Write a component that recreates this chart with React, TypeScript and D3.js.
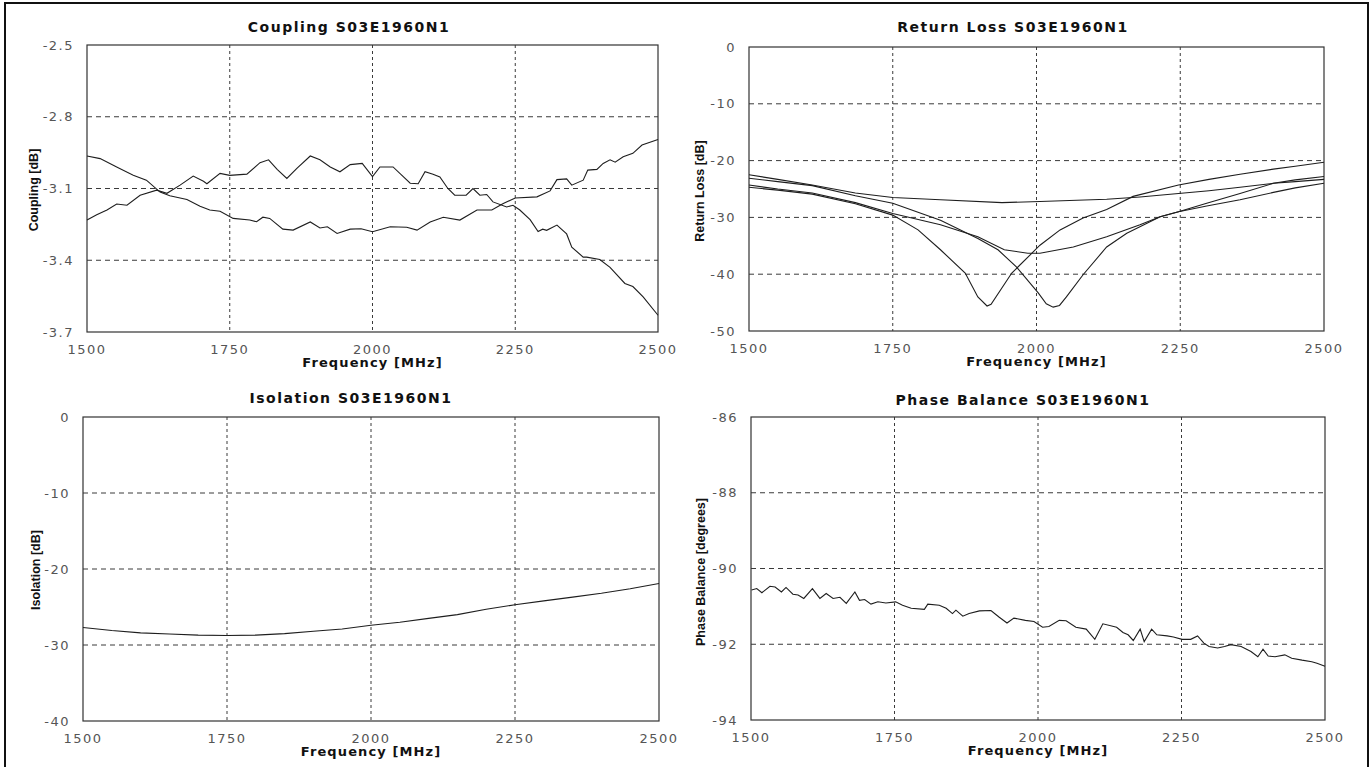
import React from "react";
import * as d3 from "d3";

// ---------- data ----------
const FREQ_TICKS = [1500, 1750, 2000, 2250, 2500];

const COUPLING_TICKS = [-2.5, -2.8, -3.1, -3.4, -3.7];
const couplingAFreq = [1500, 1523, 1552, 1581, 1604, 1628, 1645, 1675, 1698, 1715, 1733, 1756, 1785, 1797, 1808, 1820, 1843, 1861, 1891, 1908, 1921, 1938, 1961, 1980, 2000, 2031, 2060, 2078, 2101, 2124, 2153, 2183, 2209, 2229, 2250, 2288, 2311, 2323, 2340, 2349, 2369, 2377, 2393, 2404, 2416, 2425, 2439, 2456, 2472, 2500];
const couplingAVal = [-2.964, -2.975, -3.01, -3.045, -3.065, -3.115, -3.13, -3.146, -3.174, -3.19, -3.195, -3.225, -3.232, -3.239, -3.22, -3.225, -3.27, -3.274, -3.24, -3.265, -3.26, -3.288, -3.27, -3.268, -3.281, -3.26, -3.262, -3.274, -3.24, -3.22, -3.232, -3.19, -3.19, -3.163, -3.14, -3.135, -3.11, -3.063, -3.06, -3.086, -3.065, -3.023, -3.02, -2.995, -2.98, -2.99, -2.967, -2.953, -2.918, -2.895];
const couplingBFreq = [1500, 1517, 1535, 1552, 1570, 1593, 1622, 1640, 1663, 1686, 1704, 1710, 1733, 1750, 1780, 1803, 1818, 1833, 1850, 1868, 1891, 1908, 1926, 1943, 1961, 1982, 2000, 2013, 2036, 2066, 2080, 2092, 2106, 2118, 2132, 2144, 2164, 2176, 2188, 2200, 2211, 2235, 2246, 2258, 2276, 2290, 2298, 2305, 2323, 2340, 2349, 2369, 2375, 2398, 2416, 2442, 2456, 2474, 2500];
const couplingBVal = [-3.232, -3.21, -3.19, -3.165, -3.17, -3.128, -3.107, -3.12, -3.086, -3.048, -3.07, -3.08, -3.037, -3.045, -3.04, -2.992, -2.98, -3.02, -3.058, -3.015, -2.964, -2.98, -3.01, -3.03, -3.0, -2.995, -3.05, -3.01, -3.01, -3.078, -3.08, -3.03, -3.04, -3.052, -3.1, -3.128, -3.128, -3.1, -3.128, -3.125, -3.156, -3.177, -3.17, -3.19, -3.23, -3.28, -3.27, -3.275, -3.253, -3.29, -3.345, -3.387, -3.387, -3.397, -3.43, -3.497, -3.51, -3.553, -3.63];

const RL_TICKS = [0, -10, -20, -30, -40, -50];
const rlDip1Freq = [1500, 1550, 1610, 1685, 1750, 1794, 1833, 1876, 1898, 1914, 1921, 1957, 2006, 2041, 2081, 2122, 2168, 2247, 2300, 2354, 2412, 2450, 2500];
const rlDip1Val = [-24.7, -25.2, -25.9, -27.6, -29.6, -32.2, -35.7, -39.8, -44.0, -45.6, -45.3, -39.8, -34.9, -32.2, -30.1, -28.6, -26.3, -24.3, -23.3, -22.4, -21.5, -21.0, -20.3];
const rlDip2Freq = [1500, 1550, 1610, 1685, 1750, 1833, 1898, 1933, 1965, 2003, 2017, 2029, 2040, 2052, 2081, 2122, 2157, 2215, 2247, 2296, 2354, 2412, 2450, 2500];
const rlDip2Val = [-23.1, -23.7, -24.4, -26.2, -27.5, -30.5, -33.7, -35.7, -38.7, -43.3, -45.2, -45.8, -45.5, -44.0, -40.1, -35.2, -32.8, -29.9, -29.0, -27.5, -25.8, -24.0, -23.4, -22.8];
const rlBroadFreq = [1500, 1550, 1610, 1685, 1750, 1833, 1898, 1944, 1985, 2006, 2064, 2122, 2180, 2215, 2247, 2296, 2354, 2412, 2450, 2500];
const rlBroadVal = [-24.3, -25.0, -25.7, -27.4, -29.3, -31.3, -33.4, -35.7, -36.3, -36.3, -35.2, -33.4, -31.3, -29.9, -29.0, -28.0, -26.9, -25.6, -24.8, -24.0];
const rlFlatFreq = [1500, 1550, 1610, 1685, 1750, 1833, 1940, 2006, 2122, 2180, 2247, 2300, 2354, 2412, 2450, 2500];
const rlFlatVal = [-22.5, -23.3, -24.3, -25.7, -26.5, -26.9, -27.4, -27.2, -26.8, -26.4, -25.8, -25.3, -24.7, -24.0, -23.7, -23.3];

const ISO_TICKS = [0, -10, -20, -30, -40];
const isoFreq = [1500, 1550, 1600, 1650, 1700, 1750, 1800, 1850, 1900, 1950, 2000, 2050, 2100, 2150, 2200, 2250, 2300, 2350, 2400, 2450, 2500];
const isoVal = [-27.7, -28.1, -28.4, -28.55, -28.7, -28.75, -28.7, -28.5, -28.2, -27.9, -27.4, -27.0, -26.5, -26.0, -25.3, -24.7, -24.2, -23.7, -23.2, -22.6, -21.9];

const PHASE_TICKS = [-86, -88, -90, -92, -94];
const phaseFreq = [1501, 1510, 1519, 1533, 1542, 1553, 1561, 1573, 1582, 1592, 1607, 1620, 1631, 1643, 1655, 1666, 1681, 1689, 1698, 1709, 1721, 1735, 1752, 1764, 1779, 1802, 1808, 1828, 1840, 1851, 1857, 1869, 1880, 1898, 1918, 1932, 1946, 1958, 1978, 1993, 2008, 2019, 2037, 2049, 2066, 2084, 2099, 2113, 2137, 2148, 2157, 2166, 2178, 2185, 2198, 2207, 2225, 2236, 2251, 2266, 2278, 2289, 2298, 2313, 2325, 2336, 2354, 2371, 2383, 2392, 2401, 2413, 2430, 2442, 2460, 2477, 2486, 2500];
const phaseVal = [-90.57, -90.53, -90.64, -90.47, -90.49, -90.62, -90.5, -90.68, -90.7, -90.79, -90.53, -90.79, -90.66, -90.79, -90.76, -90.92, -90.62, -90.84, -90.82, -90.94, -90.88, -90.91, -90.88, -90.97, -91.05, -91.08, -90.94, -90.97, -91.05, -91.19, -91.1, -91.26, -91.19, -91.12, -91.11, -91.28, -91.44, -91.31, -91.37, -91.4, -91.55, -91.53, -91.37, -91.38, -91.55, -91.6, -91.87, -91.46, -91.55, -91.69, -91.75, -91.9, -91.6, -91.93, -91.6, -91.75, -91.78, -91.81, -91.87, -91.87, -91.78, -91.97, -92.06, -92.1, -92.06, -92.01, -92.06, -92.19, -92.33, -92.13, -92.31, -92.33, -92.28, -92.37, -92.42, -92.46, -92.5, -92.58];

// ---------- component ----------
type Series = { f: number[]; v: number[] };
type PanelProps = {
  left: number; right: number; top: number; bottom: number;
  yDomain: [number, number];
  yTicks: number[];
  title: string; titleX: number; titleY: number;
  yLabel: string; yLabelX: number; yLabelY: number;
  series: Series[];
};

const TICK_FONT = "'DejaVu Sans', Verdana, sans-serif";
const TITLE_FONT = "'DejaVu Sans', Verdana, sans-serif";
const YLABEL_FONT = "'Liberation Sans', Arial, sans-serif";

function Panel(p: PanelProps) {
  const x = d3.scaleLinear().domain([1500, 2500]).range([p.left, p.right]);
  const y = d3.scaleLinear().domain(p.yDomain).range([p.bottom, p.top]);
  const line = d3
    .line<[number, number]>()
    .x((d) => x(d[0]))
    .y((d) => y(d[1]));
  const innerX = FREQ_TICKS.filter((t) => t > 1500 && t < 2500);
  const innerY = p.yTicks.filter((t) => t !== p.yDomain[0] && t !== p.yDomain[1]);
  return (
    <g>
      {innerY.map((t) => (
        <line key={"hy" + t} x1={p.left} x2={p.right} y1={y(t)} y2={y(t)}
          stroke="#3a3a3a" strokeWidth={1} strokeDasharray="5,4" />
      ))}
      {innerX.map((t) => (
        <line key={"vx" + t} x1={x(t)} x2={x(t)} y1={p.top} y2={p.bottom}
          stroke="#3a3a3a" strokeWidth={1} strokeDasharray="3,3" />
      ))}
      <rect x={p.left} y={p.top} width={p.right - p.left} height={p.bottom - p.top}
        fill="none" stroke="#333" strokeWidth={1.2} />
      {p.series.map((s, i) => (
        <path key={i} d={line(s.f.map((f, j) => [f, s.v[j]] as [number, number])) || ""}
          fill="none" stroke="#1e1e1e" strokeWidth={1.1} />
      ))}
      {p.yTicks.map((t) => (
        <text key={"yt" + t} x={p.left - 13} y={y(t)} textAnchor="end" dominantBaseline="central"
          fontFamily={TICK_FONT} fontSize={13} letterSpacing={1.5} fill="#555">{String(t)}</text>
      ))}
      {FREQ_TICKS.map((t) => (
        <text key={"xt" + t} x={x(t)} y={p.bottom + 22} textAnchor="middle"
          fontFamily={TICK_FONT} fontSize={13} letterSpacing={1.5} fill="#555">{String(t)}</text>
      ))}
      <text x={(p.left + p.right) / 2} y={p.bottom + 35} textAnchor="middle"
        fontFamily={TITLE_FONT} fontWeight="bold" fontSize={13} letterSpacing={1.1} fill="#111">
        Frequency [MHz]
      </text>
      <text x={p.titleX} y={p.titleY} textAnchor="middle"
        fontFamily={TITLE_FONT} fontWeight="bold" fontSize={14} letterSpacing={1.5} fill="#111">
        {p.title}
      </text>
      <text transform={`translate(${p.yLabelX},${p.yLabelY}) rotate(-90)`} textAnchor="middle"
        dominantBaseline="central" fontFamily={YLABEL_FONT} fontWeight="bold" fontSize={12.5} fill="#111">
        {p.yLabel}
      </text>
    </g>
  );
}

export default function App() {
  return (
    <svg width={1371} height={767} style={{ position: "absolute", left: 0, top: 0, background: "#fff" }}>
      <rect x={0} y={0} width={1371} height={767} fill="#fff" />
      <rect x={5} y={3} width={1363} height={770} fill="none" stroke="#111" strokeWidth={2} />
      <Panel left={87} right={658} top={45} bottom={332} yDomain={[-3.7, -2.5]} yTicks={COUPLING_TICKS}
        title="Coupling S03E1960N1" titleX={349} titleY={32}
        yLabel="Coupling [dB]" yLabelX={34} yLabelY={190}
        series={[{ f: couplingAFreq, v: couplingAVal }, { f: couplingBFreq, v: couplingBVal }]} />
      <Panel left={749} right={1324} top={47} bottom={331} yDomain={[-50, 0]} yTicks={RL_TICKS}
        title="Return Loss S03E1960N1" titleX={1013} titleY={32}
        yLabel="Return Loss [dB]" yLabelX={700} yLabelY={191}
        series={[
          { f: rlDip1Freq, v: rlDip1Val },
          { f: rlDip2Freq, v: rlDip2Val },
          { f: rlBroadFreq, v: rlBroadVal },
          { f: rlFlatFreq, v: rlFlatVal },
        ]} />
      <Panel left={83} right={659} top={417} bottom={721} yDomain={[-40, 0]} yTicks={ISO_TICKS}
        title="Isolation S03E1960N1" titleX={351} titleY={403}
        yLabel="Isolation [dB]" yLabelX={36} yLabelY={570}
        series={[{ f: isoFreq, v: isoVal }]} />
      <Panel left={751} right={1325} top={417} bottom={720} yDomain={[-94, -86]} yTicks={PHASE_TICKS}
        title="Phase Balance S03E1960N1" titleX={1023} titleY={405}
        yLabel="Phase Balance [degrees]" yLabelX={701} yLabelY={572}
        series={[{ f: phaseFreq, v: phaseVal }]} />
    </svg>
  );
}
